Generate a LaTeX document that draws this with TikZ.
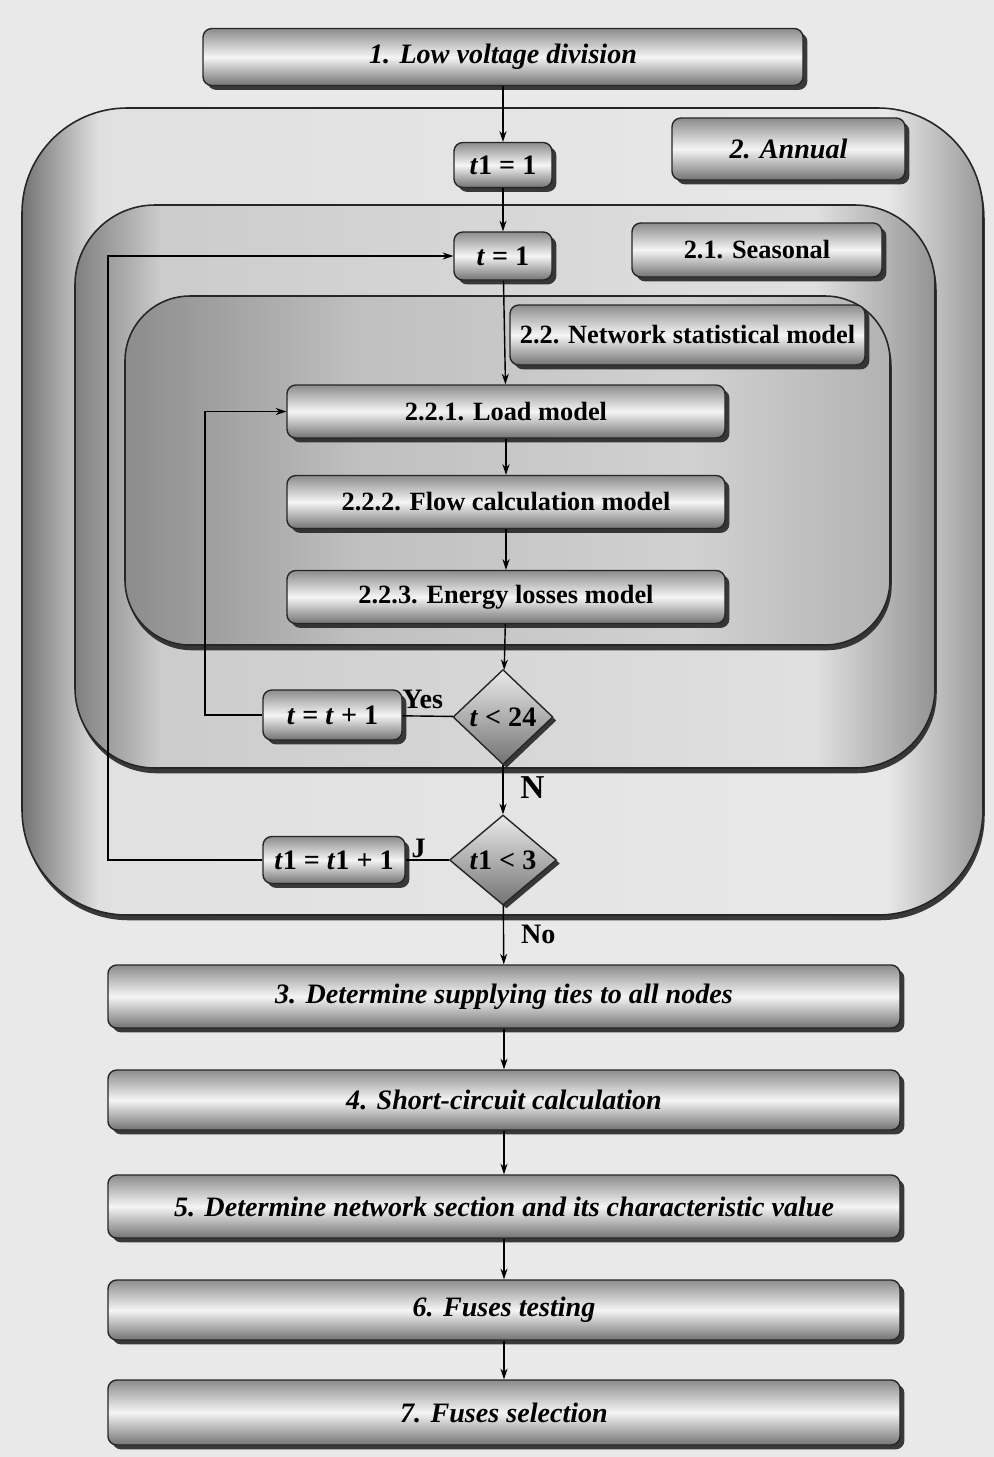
\documentclass[tikz,border=0pt]{standalone}
\usepackage{fontspec}
\setmainfont{Liberation Serif}
\usetikzlibrary{shapes.geometric, shadows, arrows.meta}
\definecolor{paper}{RGB}{233,233,233}
\pgfdeclarehorizontalshading{outershade}{100bp}{color(0bp)=(black!55); color(25bp)=(black!55);
  color(29bp)=(black!12); color(70bp)=(black!9); color(75bp)=(black!40); color(100bp)=(black!40)}
\pgfdeclarehorizontalshading{midshade}{100bp}{color(0bp)=(black!50); color(25bp)=(black!50);
  color(30bp)=(black!20); color(68bp)=(black!12); color(75bp)=(black!42); color(100bp)=(black!42)}
\pgfdeclarehorizontalshading{innershade}{100bp}{color(0bp)=(black!45); color(25bp)=(black!45);
  color(40bp)=(black!25); color(62bp)=(black!18); color(75bp)=(black!30); color(100bp)=(black!30)}

\begin{document}
\begin{tikzpicture}[
  stepbox/.style={draw=black!85, line width=0.8pt, rounded corners=5pt,
    top color=black!45, bottom color=black!55, middle color=black!4,
    drop shadow={shadow xshift=2.5pt, shadow yshift=-2.5pt, fill=black!85, opacity=0.9},
    inner sep=0pt, align=center, font=\fontsize{16}{18}\selectfont\bfseries\itshape},
  subbox/.style={stepbox, font=\fontsize{15}{17}\selectfont\bfseries},
  countbox/.style={stepbox, font=\fontsize{16}{18}\selectfont\bfseries},
  region/.style={draw=black!85, line width=0.9pt, inner sep=0pt,
    drop shadow={shadow xshift=1pt, shadow yshift=-3pt, fill=black!85, opacity=0.9}},
  decision/.style={diamond, draw=black!85, line width=0.8pt, inner sep=0pt,
    top color=black!8, bottom color=black!55,
    drop shadow={shadow xshift=2pt, shadow yshift=-2pt, fill=black!85, opacity=0.9},
    font=\fontsize{16}{18}\selectfont\bfseries},
  flow/.style={line width=0.8pt, -{Stealth[length=6pt, width=4pt]}},
  link/.style={line width=0.8pt},
  tag/.style={font=\fontsize{16}{18}\selectfont\bfseries, inner sep=1pt}
]
  \fill[paper] (0,0) rectangle (19.88,-29.14);
  \useasboundingbox (0,0) rectangle (19.88,-29.14);

  \node[region, shading=outershade, rounded corners=2.1cm, minimum width=19.22cm, minimum height=16.14cm] (annual) at (10.05,-10.23) {};
  \node[region, shading=midshade, rounded corners=1.6cm, minimum width=17.2cm, minimum height=11.26cm] (seasonal) at (10.1,-9.73) {};
  \node[region, shading=innershade, rounded corners=1.3cm, minimum width=15.3cm, minimum height=6.98cm] (network) at (10.15,-9.41) {};

  \node[stepbox, minimum width=12cm, minimum height=1.14cm] (lvd) at (10.06,-1.14) {1. Low voltage division};
  \node[stepbox, minimum width=4.66cm, minimum height=1.24cm] (annualbox) at (15.77,-2.98) {2. Annual};
  \node[subbox, minimum width=5cm, minimum height=1.08cm] (seasonalbox) at (15.14,-5.0) {2.1. Seasonal};
  \node[subbox, minimum width=7.1cm, minimum height=1.2cm] (networkbox) at (13.75,-6.7) {2.2. Network statistical model};

  \node[countbox, minimum width=1.96cm, minimum height=0.9cm] (tone) at (10.06,-3.3) {\textit{t}1 = 1};
  \node[countbox, minimum width=1.96cm, minimum height=0.96cm] (tstart) at (10.06,-5.12) {\textit{t} = 1};

  \node[subbox, minimum width=8.76cm, minimum height=1.06cm] (load) at (10.12,-8.23) {2.2.1. Load model};
  \node[subbox, minimum width=8.76cm, minimum height=1.06cm] (flowcalc) at (10.12,-10.04) {2.2.2. Flow calculation model};
  \node[subbox, minimum width=8.76cm, minimum height=1.06cm] (losses) at (10.12,-11.94) {2.2.3. Energy losses model};

  \node[decision, minimum width=2cm, minimum height=1.9cm] (hourtest) at (10.06,-14.34) {\textit{t} < 24};
  \node[countbox, minimum width=2.78cm, minimum height=1cm] (hourinc) at (6.65,-14.3) {\textit{t} = \textit{t} + 1};
  \node[decision, minimum width=2.14cm, minimum height=1.8cm] (seasontest) at (10.06,-17.2) {\textit{t}1 < 3};
  \node[countbox, minimum width=2.84cm, minimum height=0.94cm] (seasoninc) at (6.68,-17.2) {\textit{t}1 = \textit{t}1 + 1};

  \node[stepbox, minimum width=15.84cm, minimum height=1.26cm] (ties) at (10.08,-19.93) {3. Determine supplying ties to all nodes};
  \node[stepbox, minimum width=15.84cm, minimum height=1.2cm] (shortc) at (10.08,-22.0) {4. Short-circuit calculation};
  \node[stepbox, minimum width=15.84cm, minimum height=1.26cm] (section) at (10.08,-24.13) {5. Determine network section and its characteristic value};
  \node[stepbox, minimum width=15.84cm, minimum height=1.2cm] (testing) at (10.08,-26.2) {6. Fuses testing};
  \node[stepbox, minimum width=15.84cm, minimum height=1.3cm] (selection) at (10.08,-28.25) {7. Fuses selection};

  \coordinate (hourback) at (4.1,-14.3);
  \coordinate (seasonback) at (2.16,-17.2);

  \draw[flow] (lvd) -- (tone);
  \draw[flow] (tone) -- (tstart);
  \draw[flow] (tstart) -- (load);
  \draw[flow] (load) -- (flowcalc);
  \draw[flow] (flowcalc) -- (losses);
  \draw[flow] (losses) -- (hourtest);
  \draw[link] (hourtest) -- node[tag, above, pos=0.6, yshift=3pt] {Yes} (hourinc);
  \draw[flow] (hourinc) -- (hourback) |- (load);
  \draw[flow] (hourtest) -- node[tag, right, pos=0.45, xshift=0.3cm, font=\fontsize{19}{21}\selectfont\bfseries] {N} (seasontest);
  \draw[link] (seasontest) -- node[tag, above, pos=0.7] {J} (seasoninc);
  \draw[flow] (seasoninc) -- (seasonback) |- (tstart);
  \draw[flow] (seasontest) -- node[tag, right, pos=0.5, xshift=0.3cm] {No} (ties);
  \draw[flow] (ties) -- (shortc);
  \draw[flow] (shortc) -- (section);
  \draw[flow] (section) -- (testing);
  \draw[flow] (testing) -- (selection);
\end{tikzpicture}
\end{document}
